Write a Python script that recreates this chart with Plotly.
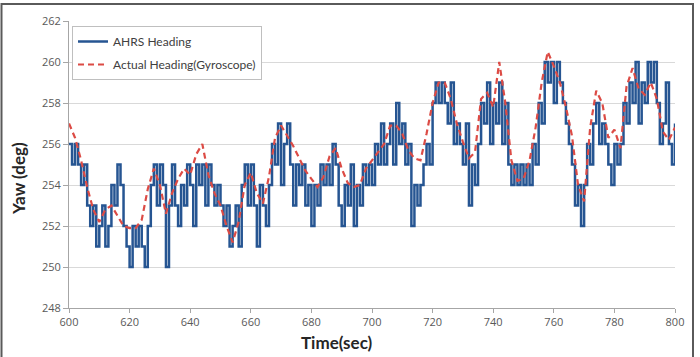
import plotly.graph_objects as go

# AHRS heading, sampled every second from 600 s to 800 s (integer degrees)
ahrs_time = list(range(600, 801))
ahrs_yaw = [
    256, 255, 256, 255, 254, 255, 253, 252, 253, 251,
    252, 253, 251, 252, 254, 253, 255, 254, 252, 251,
    250, 252, 251, 252, 251, 250, 252, 254, 255, 253,
    255, 254, 250, 253, 255, 253, 252, 254, 253, 255,
    254, 252, 255, 254, 255, 253, 255, 254, 253, 254,
    253, 252, 253, 251, 252, 253, 251, 254, 255, 253,
    255, 253, 251, 254, 253, 252, 254, 256, 255, 257,
    254, 256, 257, 255, 253, 255, 254, 255, 253, 254,
    252, 254, 253, 255, 254, 255, 254, 256, 255, 253,
    252, 254, 253, 255, 252, 254, 253, 255, 254, 255,
    254, 256, 255, 257, 255, 256, 257, 255, 258, 256,
    257, 255, 256, 252, 254, 253, 254, 255, 256, 255,
    258, 259, 258, 259, 258, 257, 259, 256, 257, 256,
    255, 257, 253, 255, 254, 256, 258, 257, 259, 256,
    258, 257, 259, 256, 258, 255, 254, 255, 254, 255,
    254, 255, 254, 256, 255, 258, 257, 260, 259, 260,
    258, 260, 259, 258, 257, 256, 255, 253, 254, 252,
    254, 256, 255, 257, 258, 256, 257, 256, 255, 254,
    256, 255, 256, 258, 257, 259, 258, 260, 257, 259,
    258, 260, 259, 260, 258, 256, 257, 259, 256, 255,
    257,
]

# Actual heading from the gyroscope, every 2 seconds
gyro_time = list(range(600, 801, 2))
gyro_yaw = [
    257.0, 256.3, 255.2, 253.9, 252.8, 252.2, 252.8, 253.0, 252.5, 252.0,
    251.9, 251.9, 252.3, 253.8, 254.8, 254.0, 252.6, 253.6, 254.3, 254.8,
    254.5, 255.5, 256.0, 254.5, 253.6, 253.0, 252.0, 251.2, 252.2, 254.0,
    254.6, 253.6, 253.1, 254.4, 256.3, 256.9, 256.4, 255.9, 255.3, 254.7,
    254.3, 253.9, 254.4, 255.4, 255.8, 254.8, 254.1, 253.9, 254.0, 254.8,
    255.2, 255.6, 256.0, 256.9, 256.9, 256.5, 255.7, 255.3, 255.2, 256.5,
    258.0, 259.0, 259.0, 258.2, 257.0, 256.1, 255.3, 255.6, 258.2, 258.5,
    257.8, 260.0, 258.0, 255.2, 254.2, 254.3, 255.2, 256.8, 259.0, 260.5,
    259.8, 259.0, 257.8, 256.4, 254.0, 253.2, 256.8, 258.6, 258.0, 256.3,
    256.7, 255.8, 258.8, 259.7, 258.7, 258.4, 259.0, 258.2, 256.6, 256.2,
    256.8,
]

x_ticks = list(range(600, 801, 20))
y_ticks = list(range(248, 263, 2))

fig = go.Figure()
fig.add_trace(go.Scatter(
    x=ahrs_time, y=ahrs_yaw, mode="lines", name="AHRS Heading",
    line=dict(color="#265592", width=2.5, shape="hv"), legendgroup="a",
))
fig.add_trace(go.Scatter(
    x=gyro_time, y=gyro_yaw, mode="lines", name="Actual Heading(Gyroscope)",
    line=dict(color="#dc4b45", width=2.2, dash="6px,4px"), legendgroup="b",
))

W, H = 700, 357
L, R, T, B = 69, 25, 21, 49
pw, ph = W - L - R, H - T - B

def px_x(p):
    return (p - L) / pw

def px_y(p):
    return (H - B - p) / ph

fig.update_layout(
    width=W, height=H,
    margin=dict(l=L, r=R, t=T, b=B),
    paper_bgcolor="white", plot_bgcolor="white",
    font=dict(family="Open Sans", size=11, color="#595959"),
    showlegend=True,
    legend=dict(
        x=px_x(72), y=px_y(26), xanchor="left", yanchor="top",
        bgcolor="white", bordercolor="#bfbfbf", borderwidth=1,
        font=dict(family="Lato", size=12, color="#404040"),
        tracegroupgap=4, itemwidth=30,
    ),
    xaxis=dict(
        range=[600, 800], tickvals=x_ticks, showgrid=False,
        showline=True, linecolor="#a6a6a6", linewidth=1,
        ticks="outside", ticklen=4, tickcolor="#a6a6a6",
        zeroline=False, tickfont=dict(size=11, color="#595959"),
    ),
    yaxis=dict(
        range=[248, 262], tickvals=y_ticks, showgrid=True,
        gridcolor="#d9d9d9", gridwidth=1,
        showline=True, linecolor="#a6a6a6", linewidth=1,
        ticks="outside", ticklen=5, tickcolor="#a6a6a6",
        zeroline=False, tickfont=dict(size=11, color="#595959"),
    ),
    annotations=[
        dict(text="<b>Time(sec)</b>", x=px_x(337), y=px_y(342), xref="paper", yref="paper",
             showarrow=False, xanchor="center", yanchor="middle",
             font=dict(family="Lato", size=17, color="#262626")),
        dict(text="<b>Yaw (deg)</b>", x=px_x(19), y=px_y(179), xref="paper", yref="paper",
             showarrow=False, xanchor="center", yanchor="middle", textangle=-90,
             font=dict(family="Lato", size=17, color="#262626")),
    ],
    shapes=[
        dict(type="rect", xref="paper", yref="paper",
             x0=px_x(1.5), x1=px_x(693), y0=px_y(360), y1=px_y(4),
             line=dict(color="#5a5a5a", width=2), fillcolor="rgba(0,0,0,0)", layer="below"),
    ],
)

fig.write_html("out.html")
